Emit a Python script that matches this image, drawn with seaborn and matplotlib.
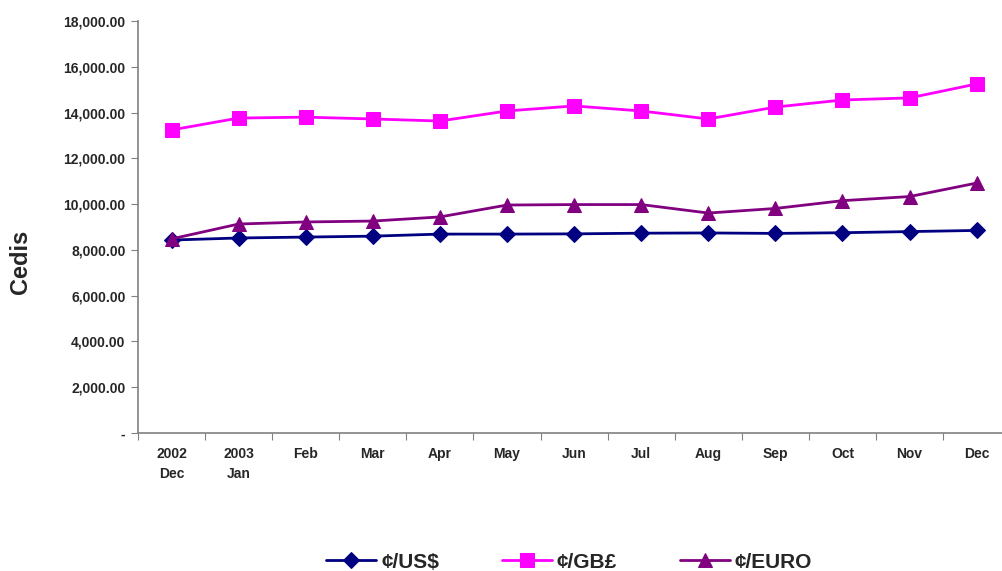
import matplotlib
matplotlib.use("Agg")
import matplotlib.pyplot as plt
import pandas as pd
import seaborn as sns
from matplotlib.ticker import FixedLocator, FuncFormatter, NullFormatter

sns.set_style("white")
plt.rcParams["font.family"] = ["Liberation Sans", "DejaVu Sans"]
plt.rcParams["font.weight"] = "bold"

months = ["2002\nDec", "2003\nJan", "Feb", "Mar", "Apr", "May", "Jun",
          "Jul", "Aug", "Sep", "Oct", "Nov", "Dec"]
usd = [8430, 8520, 8560, 8600, 8690, 8690, 8700, 8730, 8740, 8720, 8750, 8800, 8850]
gbp = [13240, 13760, 13800, 13720, 13630, 14070, 14290, 14070, 13720, 14240, 14550, 14640, 15250]
euro = [8480, 9130, 9220, 9260, 9440, 9960, 9980, 9980, 9610, 9810, 10150, 10330, 10920]

series = [
    ("¢/US$", usd, "#000080", "D", 8),
    ("¢/GB£", gbp, "#FF00FF", "s", 10.5),
    ("¢/EURO", euro, "#800080", "^", 10),
]

fig = plt.figure(figsize=(10.02, 5.71), dpi=100)
ax = fig.add_axes([0.1377, 0.2417, 0.8705, 0.7215])

pos = list(range(len(months)))
for name, vals, col, mk, ms in series:
    df = pd.DataFrame({"x": pos, "y": vals})
    sns.lineplot(data=df, x="x", y="y", ax=ax, color=col, marker=mk,
                 markersize=ms, markeredgecolor=col, linewidth=2, label=name)

ax.set_xlim(-0.5, len(months) - 0.5)
ax.set_ylim(0, 18000)
ax.set_yticks(range(0, 18001, 2000))
ax.yaxis.set_major_formatter(FuncFormatter(lambda v, p: "-" if v == 0 else f"{v:,.2f}"))

ax.xaxis.set_major_locator(FixedLocator([i - 0.5 for i in range(len(months) + 1)]))
ax.xaxis.set_major_formatter(NullFormatter())
ax.xaxis.set_minor_locator(FixedLocator(pos))
ax.set_xticklabels(months, minor=True)
ax.tick_params(axis="x", which="minor", length=0, pad=10, labelsize=10)
ax.tick_params(axis="x", which="major", length=5, color="#808080", direction="out", bottom=True)
ax.tick_params(axis="y", length=5, color="#808080", direction="out", left=True, labelsize=10, pad=4)
for lab in ax.get_xticklabels(minor=True):
    lab.set_fontweight("bold")
    lab.set_linespacing(1.6)

ax.set_xlabel("")
ax.set_ylabel("Cedis", fontsize=17, fontweight="bold")
ax.yaxis.set_label_coords(-0.121, 0.415)

for s in ["top", "right"]:
    ax.spines[s].set_visible(False)
for s in ["left", "bottom"]:
    ax.spines[s].set_color("#808080")
    ax.spines[s].set_linewidth(1.2)

ax.legend(loc="lower center", bbox_to_anchor=(0.568, -0.034), bbox_transform=fig.transFigure,
          ncol=3, frameon=False, prop={"size": 15, "weight": "bold"},
          handlelength=2.4, columnspacing=3.0, handletextpad=0.25)

fig.savefig("out.png", dpi=100)
